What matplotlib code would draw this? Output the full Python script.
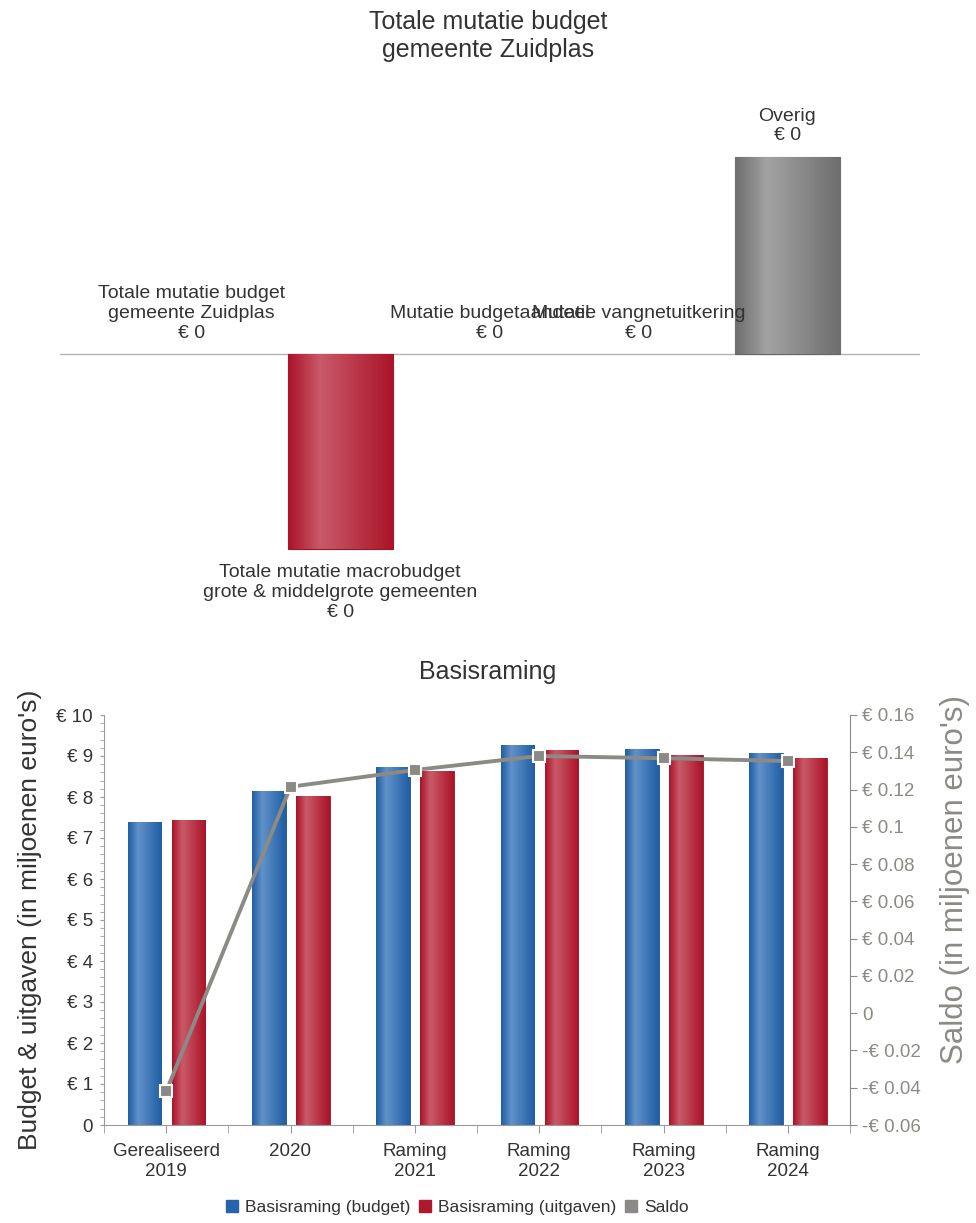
import numpy as np
import matplotlib
matplotlib.use('Agg')
import matplotlib.pyplot as plt
from matplotlib.colors import LinearSegmentedColormap
from matplotlib.lines import Line2D

plt.rcParams['font.family'] = ['Liberation Sans', 'DejaVu Sans']

# bovenste grafiek: mutaties
mut_labels = ['Totale mutatie budget\ngemeente Zuidplas',
              'Totale mutatie macrobudget\ngrote & middelgrote gemeenten',
              'Mutatie budgetaandeel',
              'Mutatie vangnetuitkering',
              'Overig']
mut_values = [0.0, -0.297, 0.0, 0.0, 0.3]
mut_text = ['€ 0', '€ 0', '€ 0', '€ 0', '€ 0']

# onderste grafiek: basisraming
jaren = ['Gerealiseerd\n2019', '2020', 'Raming\n2021', 'Raming\n2022', 'Raming\n2023', 'Raming\n2024']
budget = [7.40, 8.15, 8.74, 9.26, 9.18, 9.07]
uitgaven = [7.44, 8.03, 8.63, 9.14, 9.02, 8.94]
saldo = [-0.042, 0.1215, 0.1305, 0.138, 0.1368, 0.1353]
links_ticks = [0, 1, 2, 3, 4, 5, 6, 7, 8, 9, 10]
rechts_ticks = [-0.06, -0.04, -0.02, 0, 0.02, 0.04, 0.06, 0.08, 0.10, 0.12, 0.14, 0.16]

BLAUW = '#2563ab'
ROOD = '#b0182d'
GRIJS = '#8c8a84'
TEKST = '#333333'


def verloop(ax, bars, donker, licht):
    # horizontaal kleurverloop in elke staaf
    cmap = LinearSegmentedColormap.from_list('v', [(0, donker), (0.3, licht), (1, donker)])
    grad = np.linspace(0, 1, 64).reshape(1, -1)
    for b in bars:
        if b.get_height() == 0:
            continue
        x0, w = b.get_x(), b.get_width()
        y0, h = b.get_y(), b.get_height()
        im = ax.imshow(grad, cmap=cmap, extent=[x0, x0 + w, y0, y0 + h],
                       aspect='auto', zorder=b.get_zorder() + 0.1, interpolation='bicubic')
        im.set_clip_path(b)


fig = plt.figure(figsize=(9.76, 12.23), dpi=100)

# ---------- bovenste grafiek ----------
ax1 = fig.add_axes([60 / 976, (1223 - 640) / 1223, 860 / 976, 550 / 1223])
x1 = np.arange(len(mut_labels))
kleuren = ['#888888', ROOD, '#888888', '#888888', '#7a7a7a']
bars1 = ax1.bar(x1, mut_values, width=0.705, color=kleuren, zorder=2,
                edgecolor=['none', '#9a1427', 'none', 'none', '#666666'], linewidth=0.8)
verloop(ax1, [bars1[1]], '#ab1328', '#c95a69')
verloop(ax1, [bars1[4]], '#6e6e6e', '#a3a3a3')
ax1.axhline(0, color='#b4b4b4', lw=1, zorder=1)
ax1.set_xlim(-0.88, 4.89)
ax1.set_ylim(-0.4355, 0.402)
ax1.axis('off')
for i, (lab, v, t) in enumerate(zip(mut_labels, mut_values, mut_text)):
    if v < 0:
        ax1.annotate(lab + '\n' + t, (i, v), xytext=(0, -11), textcoords='offset points',
                     ha='center', va='top', fontsize=14, color=TEKST, linespacing=1.22)
    else:
        ax1.annotate(lab + '\n' + t, (i, v), xytext=(0, 9), textcoords='offset points',
                     ha='center', va='bottom', fontsize=14, color=TEKST, linespacing=1.22)

fig.text(0.5, 1 - 36 / 1223, 'Totale mutatie budget\ngemeente Zuidplas', ha='center', va='center',
         fontsize=18, color=TEKST, linespacing=1.25)

# ---------- onderste grafiek ----------
ax = fig.add_axes([104 / 976, (1223 - 1125) / 1223, 746 / 976, 410 / 1223])
ax2 = ax.twinx()
x = np.arange(len(jaren))
b1 = ax.bar(x - 0.175, budget, width=0.27, color=BLAUW, edgecolor='#1d5596', linewidth=0.6, zorder=2)
b2 = ax.bar(x + 0.18, uitgaven, width=0.27, color=ROOD, edgecolor='#9a1427', linewidth=0.6, zorder=2)
verloop(ax, b1, '#1f5ea5', '#6192c9')
verloop(ax, b2, '#ab1328', '#c95a69')
ax.set_xlim(-0.5, len(jaren) - 0.5)
ax.set_ylim(0, 10)

ax2.plot(x, saldo, color=GRIJS, lw=2.8, marker='s', markersize=9,
         markerfacecolor=GRIJS, markeredgecolor='white', markeredgewidth=1.5, zorder=3)
ax2.set_ylim(-0.06, 0.16)
ax2.set_xlim(-0.5, len(jaren) - 0.5)

for s in ['top', 'right']:
    ax.spines[s].set_visible(False)
ax.spines['left'].set_color('#9a9a9a')
ax.spines['bottom'].set_color('#9a9a9a')
for s in ['top', 'left', 'bottom']:
    ax2.spines[s].set_visible(False)
ax2.spines['right'].set_color(GRIJS)

ax.set_yticks(links_ticks)
ax.set_yticklabels(['0' if v == 0 else f'€ {v}' for v in links_ticks])
ax.set_yticks(np.arange(0, 10.01, 0.2), minor=True)
ax.tick_params(axis='y', which='both', length=3, color='#9a9a9a', labelsize=13.5,
               labelcolor=TEKST, pad=5)
ax.set_xticks(x)
ax.set_xticklabels(jaren)
ax.set_xticks(np.arange(-0.5, len(jaren), 1.0), minor=True)
ax.tick_params(axis='x', which='both', length=6, color='#9a9a9a', labelsize=13.5,
               labelcolor=TEKST, pad=7)

def saldo_label(v):
    if abs(v) < 1e-9:
        return '0'
    return ('-' if v < 0 else '') + f'€ {abs(v):g}'

ax2.set_yticks(rechts_ticks)
ax2.set_yticklabels([saldo_label(v) for v in rechts_ticks])
ax2.tick_params(axis='y', length=5, color=GRIJS, labelsize=13.5, labelcolor=GRIJS, pad=4)

ax.set_ylabel("Budget & uitgaven (in miljoenen euro's)", fontsize=19, color=TEKST, labelpad=10)
fig.text(955 / 976, 1 - 880 / 1223, "Saldo (in miljoenen euro's)", rotation=90,
         ha='center', va='center', fontsize=22.5, color=GRIJS)
fig.text(0.5, 1 - 672 / 1223, 'Basisraming', ha='center', va='center', fontsize=18, color=TEKST)

handles = [Line2D([], [], marker='s', ls='none', color=BLAUW, markersize=9),
           Line2D([], [], marker='s', ls='none', color=ROOD, markersize=9),
           Line2D([], [], marker='s', ls='none', color=GRIJS, markersize=9)]
fig.legend(handles, ['Basisraming (budget)', 'Basisraming (uitgaven)', 'Saldo'],
           loc='center', bbox_to_anchor=(457 / 976, 1 - 1207 / 1223), ncol=3, frameon=False,
           fontsize=12.5, handletextpad=0.35, columnspacing=0.45, handlelength=0.8,
           labelcolor=TEKST)

fig.savefig('out.png', dpi=100)
